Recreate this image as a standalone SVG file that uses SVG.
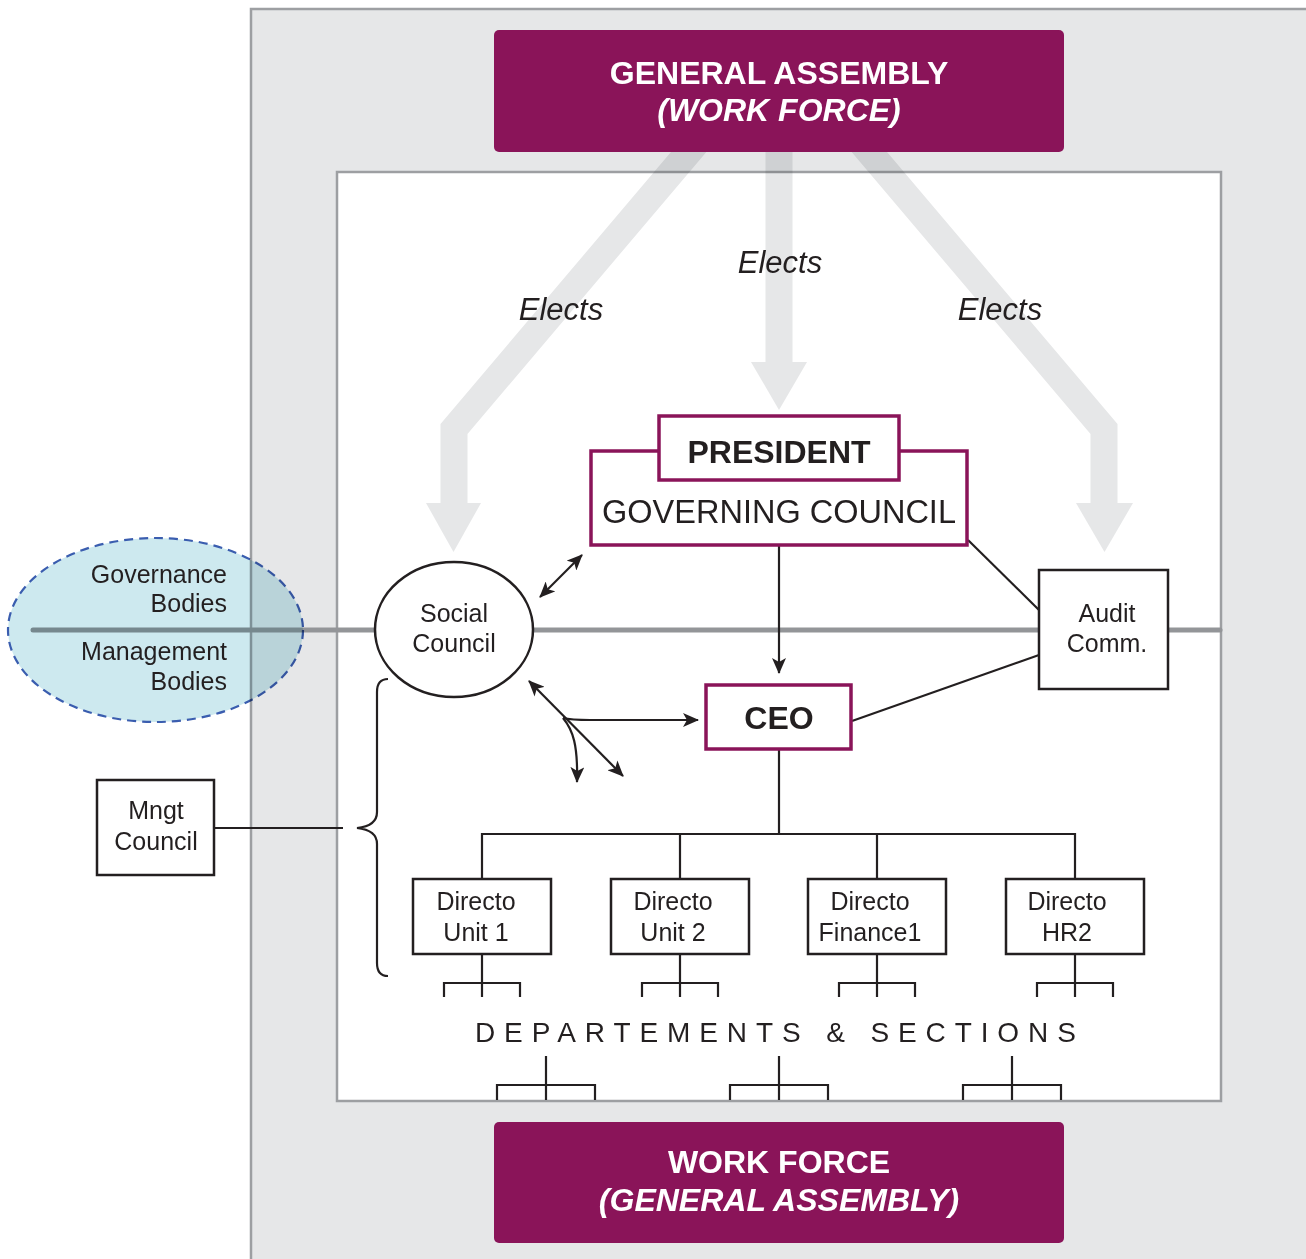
<svg xmlns="http://www.w3.org/2000/svg" width="1306" height="1259" viewBox="0 0 1306 1259">
<defs>
<style>
text{font-family:"Liberation Sans",Arial,sans-serif;fill:#231f20}
.w{fill:#ffffff;font-weight:bold;font-size:32px}
.el{font-style:italic;font-size:31px}
.n{font-size:25px}
.box{fill:#ffffff;stroke:#231f20;stroke-width:2.5}
.pbox{fill:#ffffff;stroke:#8a1459;stroke-width:3.5}
.ln{fill:none;stroke:#231f20;stroke-width:2.2}
.big{mix-blend-mode:multiply}
</style>
<marker id="ah" viewBox="0 0 16 14" refX="15" refY="7" markerWidth="16" markerHeight="14" markerUnits="userSpaceOnUse" orient="auto-start-reverse">
<path d="M0,0 L16,7 L0,14 L4,7 z" fill="#231f20"/>
</marker>
</defs>

<!-- backgrounds -->
<rect x="251" y="9" width="1070" height="1270" fill="#e6e7e8" stroke="#9d9fa2" stroke-width="2.5"/>
<rect x="337" y="172" width="884" height="929" fill="#ffffff" stroke="#9d9fa2" stroke-width="2.5"/>

<!-- divider line -->
<line x1="33" y1="630" x2="1220" y2="630" stroke="#939598" stroke-width="5" stroke-linecap="round"/>

<g id="connectors">
  <!-- big elects arrows -->
  <g class="big" fill="#e6e7e8" stroke="#e6e7e8">
    <path d="M709,128 L454,429 L454,504" fill="none" stroke-width="27" stroke-linejoin="miter"/>
    <polygon points="426,503 481,503 453.5,552" stroke="none"/>
    <path d="M779,128 L779,363" fill="none" stroke-width="27"/>
    <polygon points="751,362 807,362 779,410" stroke="none"/>
    <path d="M849,128 L1104,429 L1104,504" fill="none" stroke-width="27" stroke-linejoin="miter"/>
    <polygon points="1076,503 1133,503 1104.5,552" stroke="none"/>
  </g>
  <!-- GC to CEO -->
  <line class="ln" x1="779" y1="545" x2="779" y2="673" marker-end="url(#ah)"/>
  <!-- Social council double arrow -->
  <line class="ln" x1="540" y1="597" x2="582" y2="555" marker-start="url(#ah)" marker-end="url(#ah)"/>
  <!-- bundle -->
  <path class="ln" d="M529,681 L623,776" marker-start="url(#ah)" marker-end="url(#ah)"/>
  <path class="ln" d="M563,718 Q571,720 590,720 L698,720" marker-end="url(#ah)"/>
  <path class="ln" d="M563,718 C573,730 578,745 577,782" marker-end="url(#ah)"/>
  <!-- audit lines -->
  <line class="ln" x1="968" y1="540" x2="1039" y2="610"/>
  <line class="ln" x1="852" y1="721" x2="1039" y2="655"/>
  <!-- mngt council -->
  <line class="ln" x1="215" y1="828" x2="343" y2="828"/>
  <path class="ln" stroke-width="3" d="M388,679 Q377,679 377,692 L377,812 Q377,826 357,828 Q377,830 377,844 L377,963 Q377,976 388,976"/>
  <!-- CEO to directors -->
  <path class="ln" d="M779,749 L779,834 M482,834 L1076,834 M482,833 L482,879 M680,833 L680,879 M877,833 L877,879 M1075,833 L1075,879"/>
  <!-- director sub trees -->
  <path class="ln" d="M482,954 L482,997 M444,997 L444,983 L520,983 L520,997"/>
  <path class="ln" d="M680,954 L680,997 M642,997 L642,983 L718,983 L718,997"/>
  <path class="ln" d="M877,954 L877,997 M839,997 L839,983 L915,983 L915,997"/>
  <path class="ln" d="M1075,954 L1075,997 M1037,997 L1037,983 L1113,983 L1113,997"/>
  <!-- lower trees -->
  <path class="ln" d="M546,1056 L546,1100 M497,1100 L497,1085 L595,1085 L595,1100"/>
  <path class="ln" d="M779,1056 L779,1100 M730,1100 L730,1085 L828,1085 L828,1100"/>
  <path class="ln" d="M1012,1056 L1012,1100 M963,1100 L963,1085 L1061,1085 L1061,1100"/>
</g>

<g id="legend">
  <ellipse class="big" cx="155.5" cy="630" rx="147.5" ry="92" fill="#cde9ef" stroke="#3a5daf" stroke-width="2.2" stroke-dasharray="9,6"/>
  <text class="n" x="227" y="583" text-anchor="end">Governance</text>
  <text class="n" x="227" y="612" text-anchor="end">Bodies</text>
  <text class="n" x="227" y="660" text-anchor="end">Management</text>
  <text class="n" x="227" y="690" text-anchor="end">Bodies</text>
</g>

<g id="general-assembly">
  <rect x="494" y="30" width="570" height="122" rx="5" fill="#8a1459"/>
  <text class="w" x="779" y="84" text-anchor="middle">GENERAL ASSEMBLY</text>
  <text class="w" x="779" y="121" text-anchor="middle" font-style="italic">(WORK FORCE)</text>
</g>

<g id="elects-labels">
  <text class="el" x="561" y="320" text-anchor="middle">Elects</text>
  <text class="el" x="780" y="273" text-anchor="middle">Elects</text>
  <text class="el" x="1000" y="320" text-anchor="middle">Elects</text>
</g>

<g id="governing-council">
  <rect class="pbox" x="591" y="451" width="376" height="94"/>
  <text x="779" y="523" text-anchor="middle" font-size="32.5">GOVERNING COUNCIL</text>
</g>
<g id="president">
  <rect class="pbox" x="659" y="416" width="240" height="64"/>
  <text x="779" y="463" text-anchor="middle" font-size="32" font-weight="bold">PRESIDENT</text>
</g>

<g id="social-council">
  <ellipse cx="454" cy="629.5" rx="79" ry="67.5" fill="#ffffff" stroke="#231f20" stroke-width="2.5"/>
  <text class="n" x="454" y="622" text-anchor="middle">Social</text>
  <text class="n" x="454" y="652" text-anchor="middle">Council</text>
</g>

<g id="audit-comm">
  <rect class="box" x="1039" y="570" width="129" height="119"/>
  <text class="n" x="1107" y="622" text-anchor="middle">Audit</text>
  <text class="n" x="1107" y="652" text-anchor="middle">Comm.</text>
</g>

<g id="ceo">
  <rect class="pbox" x="706" y="685" width="145" height="64"/>
  <text x="779" y="729" text-anchor="middle" font-size="32" font-weight="bold">CEO</text>
</g>

<g id="mngt-council">
  <rect class="box" x="97" y="780" width="117" height="95"/>
  <text class="n" x="156" y="819" text-anchor="middle">Mngt</text>
  <text class="n" x="156" y="850" text-anchor="middle">Council</text>
</g>

<g id="dir-unit1">
  <rect class="box" x="413" y="879" width="138" height="75"/>
  <text class="n" x="476" y="910" text-anchor="middle">Directo</text>
  <text class="n" x="476" y="941" text-anchor="middle">Unit 1</text>
</g>
<g id="dir-unit2">
  <rect class="box" x="611" y="879" width="138" height="75"/>
  <text class="n" x="673" y="910" text-anchor="middle">Directo</text>
  <text class="n" x="673" y="941" text-anchor="middle">Unit 2</text>
</g>
<g id="dir-finance1">
  <rect class="box" x="808" y="879" width="138" height="75"/>
  <text class="n" x="870" y="910" text-anchor="middle">Directo</text>
  <text class="n" x="870" y="941" text-anchor="middle">Finance1</text>
</g>
<g id="dir-hr2">
  <rect class="box" x="1006" y="879" width="138" height="75"/>
  <text class="n" x="1067" y="910" text-anchor="middle">Directo</text>
  <text class="n" x="1067" y="941" text-anchor="middle">HR2</text>
</g>

<g id="departements">
  <text x="475" y="1042" font-size="28" letter-spacing="8.9">DEPARTEMENTS &amp; SECTIONS</text>
</g>

<g id="work-force">
  <rect x="494" y="1122" width="570" height="121" rx="5" fill="#8a1459"/>
  <text class="w" x="779" y="1173" text-anchor="middle">WORK FORCE</text>
  <text class="w" x="779" y="1211" text-anchor="middle" font-style="italic">(GENERAL ASSEMBLY)</text>
</g>
</svg>
